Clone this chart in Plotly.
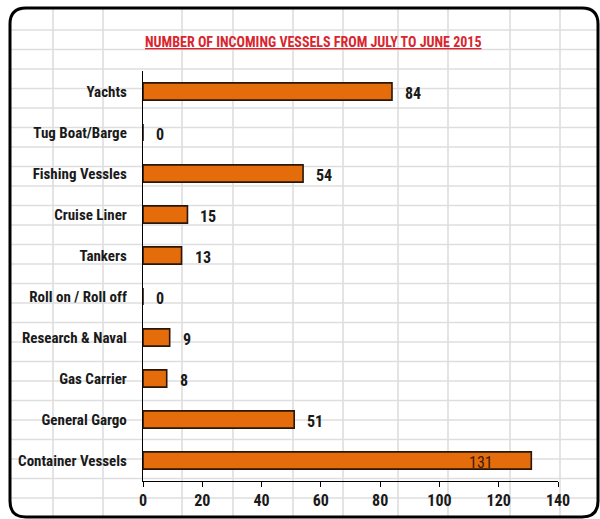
import plotly.graph_objects as go

# ---- data ----
categories = ["Container Vessels", "General Gargo", "Gas Carrier", "Research & Naval",
              "Roll on / Roll off", "Tankers", "Cruise Liner", "Fishing Vessles",
              "Tug Boat/Barge", "Yachts"]
vessels = [131, 51, 8, 9, 0, 13, 15, 54, 0, 84]
x_ticks = [0, 20, 40, 60, 80, 100, 120, 140]
title_text = "NUMBER OF INCOMING VESSELS FROM JULY TO JUNE 2015"

# ---- layout geometry (pixels) ----
W, H = 600, 519
L, R, T, B = 143, 558, 71, 481
FONT = "Roboto Condensed, Liberation Sans Narrow, DejaVu Sans Condensed, sans-serif"


def px_x(p):
    return (p - L) / (R - L)


def px_y(p):
    return (B - p) / (B - T)


fig = go.Figure()
fig.add_trace(go.Bar(
    x=vessels, y=categories, orientation="h",
    marker=dict(color="#E46C0A", line=dict(color="#2a160a", width=1.6)),
    hoverinfo="x+y", showlegend=False,
))

shapes = []
# spreadsheet grid in the background
grid_cols = [53, 103, 182, 233, 293, 343, 398, 448, 510, 560]
grid_rows = [30 + 19.5 * k for k in range(25)]
fx0, fx1, fy0, fy1 = 10, 598, 8, 517
for gx in grid_cols:
    shapes.append(dict(type="line", xref="paper", yref="paper", layer="below",
                       x0=px_x(gx), x1=px_x(gx), y0=px_y(fy0), y1=px_y(fy1),
                       line=dict(color="#dedede", width=1.6)))
for gy in grid_rows:
    shapes.append(dict(type="line", xref="paper", yref="paper", layer="below",
                       x0=px_x(fx0), x1=px_x(fx1), y0=px_y(gy), y1=px_y(gy),
                       line=dict(color="#dedede", width=1.6)))

# rounded frame
r = 16
pts = [
    ("M", fx0 + r, fy0), ("L", fx1 - r, fy0), ("Q", fx1, fy0, fx1, fy0 + r),
    ("L", fx1, fy1 - r), ("Q", fx1, fy1, fx1 - r, fy1), ("L", fx0 + r, fy1),
    ("Q", fx0, fy1, fx0, fy1 - r), ("L", fx0, fy0 + r), ("Q", fx0, fy0, fx0 + r, fy0),
]
path = ""
for p in pts:
    cmd = p[0]
    coords = p[1:]
    segs = []
    for i in range(0, len(coords), 2):
        segs.append(f"{px_x(coords[i]):.5f},{px_y(coords[i+1]):.5f}")
    path += cmd + " " + " ".join(segs) + " "
path += "Z"
shapes.append(dict(type="path", xref="paper", yref="paper", path=path, layer="above",
                   line=dict(color="#000000", width=3), fillcolor="rgba(0,0,0,0)"))

annotations = [dict(
    text="<u>" + title_text + "</u>", xref="paper", yref="paper",
    x=px_x(313), y=px_y(42), xanchor="center", yanchor="middle", showarrow=False,
    font=dict(family=FONT, size=14, color="#d9262e", weight="bold"),
)]
# value labels
for cat, v in zip(categories, vessels):
    if v > 120:
        annotations.append(dict(text=str(v), x=v, y=cat, xref="x", yref="y",
                                xanchor="right", yanchor="middle", xshift=-36, yshift=-2,
                                showarrow=False,
                                font=dict(family=FONT, size=16, color="#3a1a0a")))
    else:
        annotations.append(dict(text=str(v), x=v, y=cat, xref="x", yref="y",
                                xanchor="left", yanchor="middle", xshift=11, yshift=-2,
                                showarrow=False,
                                font=dict(family=FONT, size=16, color="#1a1a1a",
                                          weight="bold")))

fig.update_layout(
    width=W, height=H,
    margin=dict(l=L, r=W - R, t=T, b=H - B, autoexpand=False),
    paper_bgcolor="#ffffff", plot_bgcolor="rgba(0,0,0,0)",
    bargap=0.58,
    shapes=shapes, annotations=annotations,
    font=dict(family=FONT, size=16, color="#1a1a1a"),
    xaxis=dict(range=[0, 140], tickvals=x_ticks, showgrid=False, zeroline=False,
               showline=True, linecolor="#000000", linewidth=1.3,
               ticks="outside", ticklen=5, tickcolor="#000000",
               tickfont=dict(family=FONT, size=16, color="#1a1a1a", weight="bold"),
               fixedrange=True),
    yaxis=dict(categoryorder="array", categoryarray=categories, showgrid=False,
               zeroline=False, showline=True, linecolor="#000000", linewidth=1.3,
               ticks="", ticklabelstandoff=12,
               tickfont=dict(family=FONT, size=15, color="#1a1a1a", weight="bold"),
               fixedrange=True),
)

fig.write_html("out.html", config={"displayModeBar": False},
               post_script="document.body.style.margin='0';")
